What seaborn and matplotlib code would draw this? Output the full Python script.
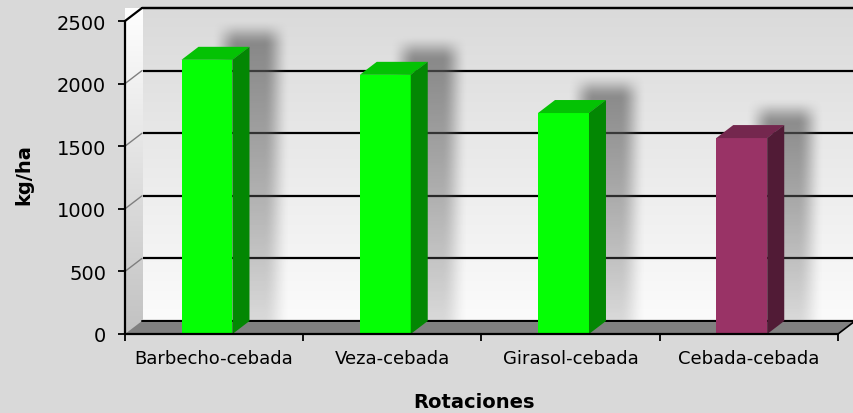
#!/usr/bin/env python3
"""Rendimiento de cebada según rotación — barras con aspecto 3D."""

import matplotlib
matplotlib.use("Agg")
import matplotlib.pyplot as plt
import numpy as np
import seaborn as sns
from matplotlib.colors import to_rgb
from matplotlib.patches import Polygon, Rectangle

rotaciones = ["Barbecho-cebada", "Veza-cebada", "Girasol-cebada", "Cebada-cebada"]
rendimiento = [2190, 2070, 1765, 1565]
colores = ["#05ff05", "#05ff05", "#05ff05", "#993366"]
y_ticks = [0, 500, 1000, 1500, 2000, 2500]

BG = "#d9d9d9"
W, H = 854, 414
# plano frontal del gráfico en píxeles
X0, X1, Y0, Y1 = 125, 838, 335, 22
DEPTH_X, DEPTH_Y = 17, 13  # desplazamiento hacia la pared del fondo


def shade(color, k):
    r, g, b = to_rgb(color)
    return (r * k, g * k, b * k)


def main() -> int:
    sns.set_theme(style="white")
    plt.rcParams["font.family"] = ["DejaVu Sans"]

    fig = plt.figure(figsize=(W / 100, H / 100), dpi=100)
    fig.patch.set_facecolor(BG)
    ax = fig.add_axes([X0 / W, (H - Y0) / H, (X1 - X0) / W, (Y0 - Y1) / H])
    ax.set_facecolor("none")

    sns.barplot(x=rotaciones, y=rendimiento, hue=rotaciones, palette=colores,
                width=0.286, saturation=1, linewidth=0, legend=False, ax=ax)
    bars = [p for p in ax.patches if isinstance(p, Rectangle)]

    xmin, xmax = -0.5, len(rotaciones) - 0.5
    ymin, ymax = y_ticks[0], y_ticks[-1]
    ax.set_xlim(xmin, xmax)
    ax.set_ylim(ymin, ymax)

    # píxel -> unidades de datos
    ux = (xmax - xmin) / (X1 - X0)
    uy = (ymax - ymin) / (Y0 - Y1)
    dx, dy = DEPTH_X * ux, DEPTH_Y * uy

    # pared del fondo con degradado
    grad = np.linspace(0.985, 0.855, 256)[:, None] * np.ones((1, 2))
    grad = np.dstack([grad] * 3)
    ax.imshow(grad, extent=(xmin + dx, xmax + dx + 0.2, ymin + dy, ymax + dy),
              origin="lower", aspect="auto", zorder=0, clip_on=False,
              interpolation="bilinear")
    for v in y_ticks:
        ax.plot([xmin + dx, xmax + dx + 0.2], [v + dy, v + dy], color="black",
                lw=1.6, zorder=1, clip_on=False)

    # pared lateral
    side = Polygon([(xmin, ymin), (xmin, ymax), (xmin + dx, ymax + dy), (xmin + dx, ymin + dy)],
                   closed=True, facecolor="none", edgecolor="none", zorder=2)
    ax.add_patch(side)
    sgrad = np.linspace(0.76, 1.0, 256)[:, None] * np.ones((1, 2))
    sgrad = np.dstack([sgrad] * 3)
    im = ax.imshow(sgrad, extent=(xmin, xmin + dx, ymin, ymax + dy), origin="lower",
                   aspect="auto", zorder=2, clip_on=False, interpolation="bilinear")
    im.set_clip_path(side)
    for v in y_ticks[1:-1]:
        ax.plot([xmin, xmin + dx], [v, v + dy], color="#7f7f7f", lw=1.0, zorder=2.5,
                clip_on=False)
    ax.plot([xmin, xmin + dx, xmax + dx + 0.2], [ymax, ymax + dy, ymax + dy],
            color="black", lw=1.6, zorder=6, clip_on=False)

    # sombras difusas detrás de las barras
    for p in bars:
        p.set_x(p.get_x() - 0.04)
    blur = 13
    for p in bars:
        x0, w, h = p.get_x(), p.get_width(), p.get_height()
        sx0 = x0 + dx + 26 * ux
        sx1 = sx0 + w
        stop = h + dy + 13 * uy
        ex0, ex1 = sx0 - blur * ux, sx1 + blur * ux
        ey0, ey1 = ymin + dy, stop + blur * uy
        nx = int((ex1 - ex0) / ux)
        ny = int((ey1 - ey0) / uy)
        px = ex0 + (np.arange(nx) + 0.5) * ux
        py = ey0 + (np.arange(ny) + 0.5) * uy
        rx = np.clip(np.minimum(px - ex0, ex1 - px) / (2 * blur * ux), 0, 1)
        ry = np.clip((ey1 - py) / (2 * blur * uy), 0, 1)
        rx = rx * rx * (3 - 2 * rx)
        ry = ry * ry * (3 - 2 * ry)
        fade = 0.3 + 0.7 * (py - ey0) / (ey1 - ey0)
        alpha = rx[None, :] * (ry * fade)[:, None] * 0.72
        rgba = np.zeros((ny, nx, 4))
        rgba[..., :3] = 0.38
        rgba[..., 3] = alpha
        ax.imshow(rgba, extent=(ex0, ex1, ey0, ey1), origin="lower", aspect="auto",
                  zorder=1.5, clip_on=False, interpolation="bilinear")

    # suelo
    floor = Polygon([(xmin, ymin), (xmax, ymin), (xmax + dx, ymin + dy), (xmin + dx, ymin + dy)],
                    closed=True, facecolor="#808080", edgecolor="none", zorder=3, clip_on=False)
    ax.add_patch(floor)
    ax.plot([xmin + dx, xmax + dx + 0.2], [ymin + dy, ymin + dy], color="black", lw=1.4,
            zorder=3.5, clip_on=False)
    ax.plot([xmax, xmax + dx], [ymin, ymin + dy], color="black", lw=1.2, zorder=3.5,
            clip_on=False)

    # caras superior y lateral de las barras
    for p, c in zip(bars, colores):
        x0, w, h = p.get_x(), p.get_width(), p.get_height()
        p.set_zorder(5)
        top = Polygon([(x0, h), (x0 + w, h), (x0 + w + dx, h + dy), (x0 + dx, h + dy)],
                      closed=True, facecolor=shade(c, 0.76), edgecolor="none", zorder=5,
                      clip_on=False)
        right = Polygon([(x0 + w, ymin), (x0 + w, h), (x0 + w + dx, h + dy), (x0 + w + dx, ymin + dy)],
                        closed=True, facecolor=shade(c, 0.53), edgecolor="none", zorder=5,
                        clip_on=False)
        ax.add_patch(top)
        ax.add_patch(right)

    # ejes
    for s in ax.spines.values():
        s.set_visible(False)
    ax.plot([xmin, xmin], [ymin, ymax], color="black", lw=1.6, zorder=6, clip_on=False)
    ax.plot([xmin, xmax], [ymin, ymin], color="black", lw=1.6, zorder=6, clip_on=False)

    ax.set_yticks(y_ticks)
    ax.set_yticklabels([str(v) for v in y_ticks])
    ax.set_xticks(range(len(rotaciones)))
    ax.set_xticklabels(rotaciones)
    ax.set_xticks(np.arange(len(rotaciones) + 1) - 0.5, minor=True)
    ax.tick_params(axis="y", which="major", left=True, length=5, width=1.3, color="black",
                   direction="out", pad=8.5, labelsize=14, labelcolor="black")
    ax.tick_params(axis="x", which="major", bottom=True, length=0, pad=11, labelsize=13,
                   labelcolor="black")
    ax.tick_params(axis="x", which="minor", bottom=True, length=5, width=1.3, color="black",
                   direction="out")
    ax.grid(False)

    ax.set_xlabel("Rotaciones", fontsize=14, fontweight="bold", color="black")
    ax.xaxis.set_label_coords((474 - X0) / (X1 - X0), (Y0 - 393) / (Y0 - Y1))
    ax.set_ylabel("kg/ha", fontsize=14, fontweight="bold", color="black")
    ax.yaxis.set_label_coords((33 - X0) / (X1 - X0), (Y0 - 175) / (Y0 - Y1))

    fig.savefig("out.png", dpi=100, facecolor=BG)
    plt.close(fig)
    return 0


if __name__ == "__main__":
    raise SystemExit(main())
